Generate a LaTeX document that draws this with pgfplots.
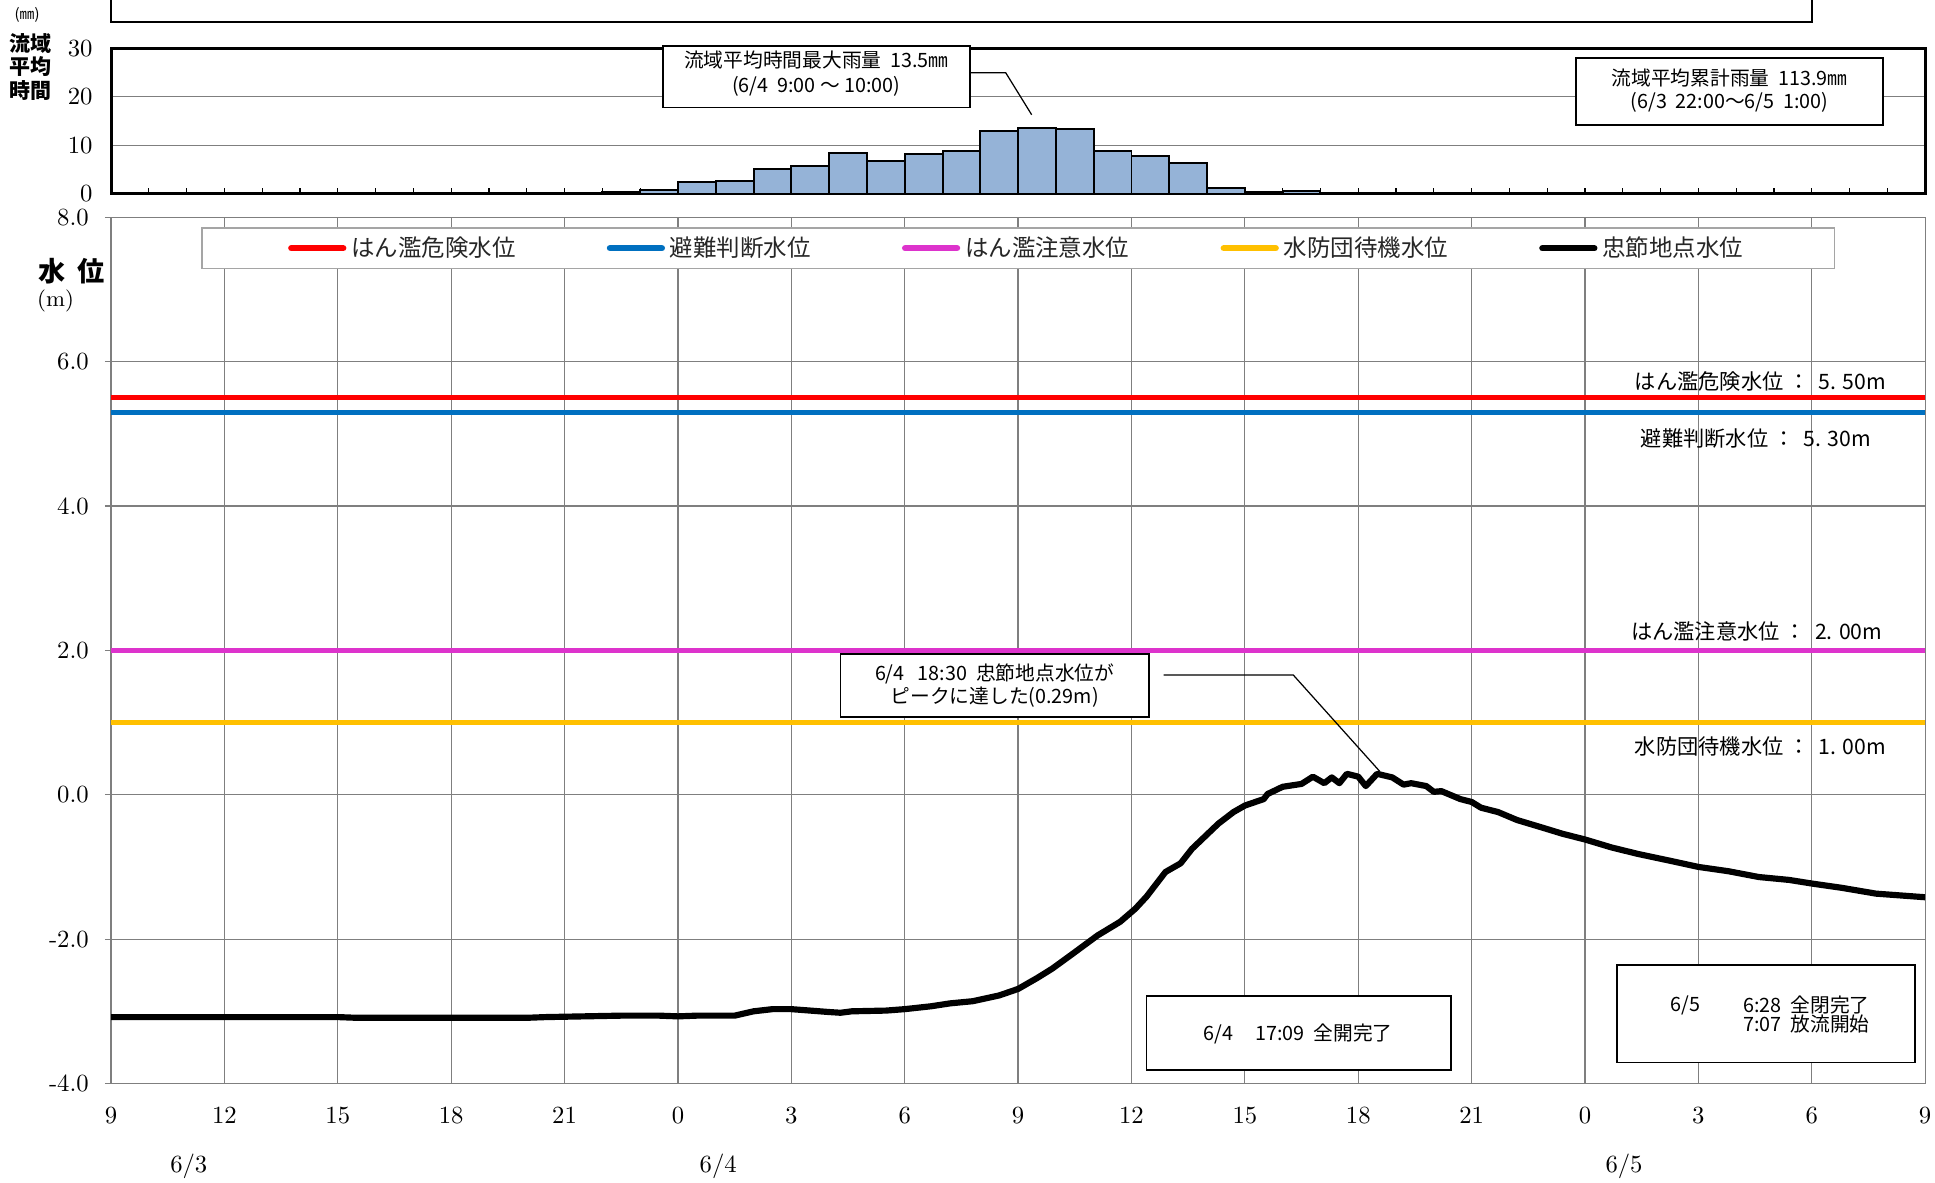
\documentclass[border=0pt]{standalone}
\usepackage{pgfplots}
\pgfplotsset{compat=1.18}
\usepackage{fontspec}
\newfontfamily\jp{Noto Sans CJK JP}
\definecolor{kiken}{HTML}{FF0000}
\definecolor{hinan}{HTML}{0070C0}
\definecolor{chui}{HTML}{DD33CC}
\definecolor{taiki}{HTML}{FFC000}
\definecolor{barfill}{HTML}{95B3D7}
\definecolor{grd}{HTML}{7F7F7F}

\begin{document}
\begin{tikzpicture}
% hourly basin-average rainfall
\begin{axis}[
  at={(45pt,-19.5pt)}, anchor=north west,
  scale only axis, width=735pt, height=59pt,
  xmin=9, xmax=57, ymin=0, ymax=30,
  xtick={10,11,...,56}, xticklabels={}, xtick pos=left,
  tick align=inside, major tick length=2.2pt,
  xtick style={black, line width=0.5pt},
  ytick={0,10,20,30}, ytick style={draw=none},
  ymajorgrids, grid style={grd, line width=0.5pt},
  axis line style={line width=1.2pt},
  tick label style={font=\fontsize{10}{12}\selectfont},
  yticklabel style={xshift=-4pt},
]
\addplot[ybar interval, fill=barfill, draw=black, line width=0.8pt] coordinates {
  (22,0.3) (23,0.7) (24,2.5) (25,2.7) (26,5.1) (27,5.8) (28,8.4) (29,6.8)
  (30,8.2) (31,8.9) (32,12.9) (33,13.5) (34,13.4) (35,8.9) (36,7.8) (37,6.4)
  (38,1.2) (39,0.3) (40,0.5) (41,0.2) (42,0.2) (43,0)
};
\end{axis}

% water level
\begin{axis}[
  at={(45pt,-88pt)}, anchor=north west,
  scale only axis, width=735pt, height=351pt,
  xmin=9, xmax=57, ymin=-4, ymax=8,
  xtick={9,12,...,57},
  xticklabels={9,12,15,18,21,0,3,6,9,12,15,18,21,0,3,6,9},
  ytick={-4,-2,...,8},
  yticklabels={-4.0,-2.0,0.0,2.0,4.0,6.0,8.0},
  xmajorgrids, ymajorgrids, grid style={grd, line width=0.5pt},
  axis line style={grd, line width=0.5pt},
  xtick style={draw=none}, ytick pos=left,
  ytick style={grd, line width=0.5pt}, tick align=outside, major tick length=2.5pt,
  tick label style={font=\fontsize{10}{12}\selectfont},
  xticklabel style={yshift=-3.5pt}, yticklabel style={xshift=-3pt},
  legend columns=5,
  legend style={at={(0.5,1)}, yshift=-4pt, anchor=north, draw=grd!70, line width=0.6pt,
    fill=white, inner xsep=35pt, inner ysep=1.5pt,
    font=\jp\fontsize{9.5}{11}\selectfont, text=black!85,
    /tikz/every even column/.append style={column sep=35pt}},
  legend image code/.code={\draw[#1, line width=2.6pt, line cap=round] (0pt,0pt) -- (21pt,0pt);},
]
\addplot[kiken, line width=2pt] coordinates {(9,5.5) (57,5.5)};
\addlegendentry{はん濫危険水位}
\addplot[hinan, line width=2pt] coordinates {(9,5.3) (57,5.3)};
\addlegendentry{避難判断水位}
\addplot[chui, line width=2pt] coordinates {(9,2.0) (57,2.0)};
\addlegendentry{はん濫注意水位}
\addplot[taiki, line width=2pt] coordinates {(9,1.0) (57,1.0)};
\addlegendentry{水防団待機水位}
\addplot[black, line width=2.5pt, line join=round] coordinates {
  (9,-3.08) (12,-3.08) (15,-3.08) (15.5,-3.09) (18,-3.09) (20,-3.09) (20.5,-3.08)
  (21.5,-3.07) (22.5,-3.06) (23.5,-3.06) (24,-3.07) (24.5,-3.06) (25.5,-3.06)
  (26.0,-3.00) (26.5,-2.97) (27.0,-2.97) (27.5,-2.99) (28.0,-3.01) (28.3,-3.02)
  (28.6,-3.00) (29.5,-2.99) (30.0,-2.97) (30.7,-2.93) (31.2,-2.89) (31.8,-2.86)
  (32.5,-2.78) (33.0,-2.69) (33.5,-2.54) (33.9,-2.41) (34.4,-2.22) (35.1,-1.95)
  (35.7,-1.76) (36.1,-1.58) (36.4,-1.41) (36.9,-1.07) (37.3,-0.95) (37.6,-0.75)
  (38.3,-0.40) (38.7,-0.24) (39.0,-0.15) (39.5,-0.06) (39.6,0.01) (40.0,0.11)
  (40.5,0.15) (40.8,0.25) (41.1,0.16) (41.3,0.24) (41.5,0.16) (41.7,0.29)
  (42.0,0.25) (42.2,0.12) (42.5,0.29) (42.9,0.24) (43.2,0.14) (43.4,0.16)
  (43.8,0.12) (44.0,0.04) (44.2,0.05) (44.7,-0.06) (45.0,-0.10) (45.25,-0.18)
  (45.7,-0.24) (46.2,-0.35) (46.9,-0.46) (47.4,-0.54) (48.0,-0.62) (48.7,-0.73)
  (49.4,-0.82) (50.3,-0.92) (51.0,-1.00) (51.8,-1.06) (52.6,-1.14) (53.4,-1.18)
  (54.0,-1.23) (54.8,-1.29) (55.7,-1.37) (57.0,-1.42)
};
\addlegendentry{忠節地点水位}
\begin{scope}[font=\jp\fontsize{8.6}{10}\selectfont]
\node[anchor=east] at (axis cs:56.2,5.73) {はん濫危険水位\ ：\ \ 5. 50m};
\node[anchor=east] at (axis cs:55.8,4.94) {避難判断水位\ ：\ \ 5. 30m};
\node[anchor=east] at (axis cs:56.1,2.26) {はん濫注意水位\ ：\ \ 2. 00m};
\node[anchor=east] at (axis cs:56.2,0.67) {水防団待機水位\ ：\ \ 1. 00m};
\end{scope}
\end{axis}

% annotations, in pixel units of the reference (origin top left)
\begin{scope}[x=0.5pt, y=-0.5pt, font=\jp\fontsize{8}{9.5}\selectfont]
\draw[line width=0.8pt] (90,-2) -- (90,18) -- (1468,18) -- (1468,-2);
\node[font=\jp\fontsize{6}{7}\selectfont] at (22,12) {(㎜)};
\node[font=\jp\bfseries\fontsize{8.5}{9}\selectfont] at (25,35) {流域};
\node[font=\jp\bfseries\fontsize{8.5}{9}\selectfont] at (25,54) {平均};
\node[font=\jp\bfseries\fontsize{8.5}{9}\selectfont] at (25,73) {時間};
\node[font=\jp\bfseries\fontsize{11}{12}\selectfont] at (58,220) {水\ \ 位};
\node[font=\rmfamily\fontsize{9}{10}\selectfont] at (45,244) {(m)};
\node[font=\rmfamily\fontsize{10}{12}\selectfont] at (153,945) {6/3};
\node[font=\rmfamily\fontsize{10}{12}\selectfont] at (582,945) {6/4};
\node[font=\rmfamily\fontsize{10}{12}\selectfont] at (1316,945) {6/5};
% maximum hourly rainfall
\draw[line width=0.7pt, fill=white] (537,37) rectangle (786,87);
\node at (661.5,49) {流域平均時間最大雨量\ \ 13.5㎜};
\node at (661.5,70) {(6/4\ \ 9:00 ～ 10:00)};
\draw[line width=0.5pt] (786,59) -- (815,59) -- (836,93);
% cumulative rainfall
\draw[line width=0.7pt, fill=white] (1277,47) rectangle (1526,101);
\node at (1401.5,63) {流域平均累計雨量\ \ 113.9㎜};
\node at (1401.5,83) {(6/3\ \ 22:00～6/5\ \ 1:00)};
% peak
\draw[line width=0.7pt, fill=white] (681,530) rectangle (931,581);
\node at (806,546) {6/4\ \ \ 18:30\ \ 忠節地点水位が};
\node at (806,565) {ピークに達した(0.29m)};
\draw[line width=0.5pt] (943,547) -- (1048,547) -- (1118,625);
% gate operations
\draw[line width=0.7pt, fill=white] (929,807) rectangle (1176,867);
\node at (1052,838) {6/4\ \ \ \ \ 17:09\ \ 全開完了};
\draw[line width=0.7pt, fill=white] (1310,782) rectangle (1552,861);
\node at (1366,815) {6/5};
\node[anchor=east, align=right, font=\jp\fontsize{8}{7.5}\selectfont] at (1522,822) {6:28\ \ 全閉完了\\7:07\ \ 放流開始};
\end{scope}
\pgfresetboundingbox
\path (0pt,0pt) rectangle (784pt,-479pt);
\end{tikzpicture}
\end{document}
